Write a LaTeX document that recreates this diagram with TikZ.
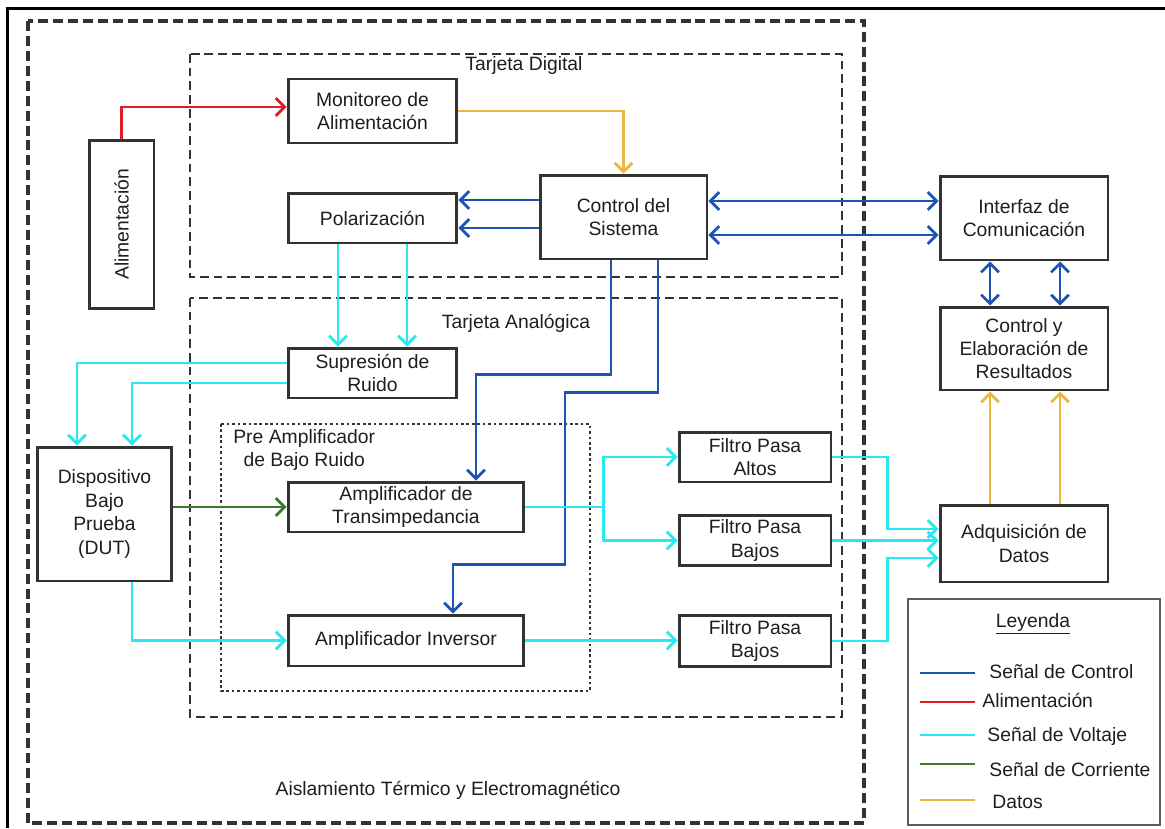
\documentclass[tikz,border=0pt]{standalone}
\usepackage{fontspec}
\setmainfont{Liberation Sans}
\usetikzlibrary{arrows.meta, calc}
\definecolor{sigB}{RGB}{30,84,180}
\definecolor{sigR}{RGB}{222,30,36}
\definecolor{sigC}{RGB}{40,232,240}
\definecolor{sigG}{RGB}{62,120,40}
\definecolor{sigY}{RGB}{232,186,60}
\definecolor{boxK}{RGB}{51,51,51}
\definecolor{txtK}{RGB}{30,30,30}
\tikzset{
  blk/.style={draw=boxK, line width=1.7pt, fill=white, align=center, inner sep=0pt, text=txtK},
  lnk/.style={line width=1.6pt, ->},
  ctl/.style={lnk, sigB}, pwr/.style={lnk, sigR}, volt/.style={lnk, sigC},
  curr/.style={lnk, sigG}, dat/.style={lnk, sigY},
  outer/.style={draw=boxK, line width=1.8pt, dash pattern=on 5.7pt off 2.8pt},
  card/.style={draw=boxK, line width=0.9pt, dash pattern=on 5pt off 2.8pt},
  lna/.style={draw=boxK, line width=1.6pt, dash pattern=on 1.5pt off 1.6pt}
}
\begin{document}
\begin{tikzpicture}[x=0.02cm, y=-0.02cm, >={Straight Barb[length=5pt,width=10pt]},
  font=\fontsize{11}{13.3}\selectfont, text=txtK]
\useasboundingbox (0,0) rectangle (1165,828);
% ======== frame and enclosures ========
\draw[line width=1.7pt] (7.5,828) -- (7.5,8.5) -- (1165,8.5);
\draw[outer] (28,21) rectangle (864,823);
\draw[card] (190,54) rectangle (842,277);
\draw[card] (190,298) rectangle (842,717);
\draw[lna] (221,424) rectangle (590,691);
\node (tdig) at (524,66) {Tarjeta Digital};
\node (tana) at (516,323) {Tarjeta Analógica};
\node[align=center, anchor=north west, inner sep=0pt] (pream) at (233,429) {Pre Amplificador\\de Bajo Ruido};
\node (aisl) at (448,790) {Aislamiento Térmico y Electromagnético};
% ======== blocks ========
\node[blk, minimum width=1.30cm, minimum height=3.38cm] (alim) at (121.5,224.5) {\rotatebox{90}{Alimentación}};
\node[blk, minimum width=3.38cm, minimum height=1.28cm] (monit) at (372.5,111) {Monitoreo de\\Alimentación};
\node[blk, minimum width=3.38cm, minimum height=1.00cm] (polar) at (372.5,218) {Polarización};
\node[blk, minimum width=3.34cm, minimum height=1.68cm] (ctrl) at (623.5,217) {Control del\\Sistema};
\node[blk, minimum width=3.36cm, minimum height=1.68cm] (interf) at (1024,218) {Interfaz de\\Comunicación};
\node[blk, minimum width=3.36cm, minimum height=1.66cm] (result) at (1024,348.5) {Control y\\Elaboración de\\Resultados};
\node[blk, minimum width=3.36cm, minimum height=1.54cm] (adq) at (1024,543.5) {Adquisición de\\Datos};
\node[blk, minimum width=3.38cm, minimum height=1.00cm] (supr) at (372.5,373) {Supresión de\\Ruido};
\node[blk, minimum width=2.70cm, minimum height=2.68cm, font=\fontsize{11}{13.6}\selectfont] (dut) at (104.5,514) {Dispositivo\\Bajo\\Prueba\\(DUT)};
\node[blk, minimum width=4.72cm, minimum height=1.00cm] (trans) at (406,507) {Amplificador de\\Transimpedancia};
\node[blk, minimum width=4.72cm, minimum height=1.02cm] (inv) at (406,640.5) {Amplificador Inversor};
\node[blk, minimum width=3.04cm, minimum height=1.00cm] (fpa) at (755,457) {Filtro Pasa\\Altos};
\node[blk, minimum width=3.04cm, minimum height=1.00cm] (fpb1) at (755,540.5) {Filtro Pasa\\Bajos};
\node[blk, minimum width=3.04cm, minimum height=1.02cm] (fpb2) at (755,641) {Filtro Pasa\\Bajos};
% ======== supply and data ========
\draw[pwr] (alim.north) |- ([yshift=0.08cm]monit.west);
\draw[dat] (monit.east) -| (ctrl.north);
\draw[dat] ([xshift=-0.68cm]adq.north) -- ([xshift=-0.68cm]result.south);
\draw[dat] ([xshift=0.72cm]adq.north) -- ([xshift=0.72cm]result.south);
% ======== control ========
\draw[ctl] ([yshift=0.34cm]ctrl.west) -- ([yshift=0.34cm]ctrl.west -| polar.east);
\draw[ctl] ([yshift=-0.22cm]ctrl.west) -- ([yshift=-0.22cm]ctrl.west -| polar.east);
\draw[ctl, <->] ([yshift=0.32cm]ctrl.east) -- ([yshift=0.32cm]ctrl.east -| interf.west);
\draw[ctl, <->] ([yshift=-0.36cm]ctrl.east) -- ([yshift=-0.36cm]ctrl.east -| interf.west);
\draw[ctl, <->] ([xshift=-0.68cm]interf.south) -- ([xshift=-0.68cm]result.north);
\draw[ctl, <->] ([xshift=0.72cm]interf.south) -- ([xshift=0.72cm]result.north);
\draw[ctl] ([xshift=-0.25cm]ctrl.south) -- ++(0,114) -| ([xshift=1.4cm]trans.north);
\draw[ctl] ([xshift=0.69cm]ctrl.south) -- ++(0,132) -- ++(-93,0) -- ++(0,172) -| ([xshift=0.94cm]inv.north);
% ======== analog signals ========
\draw[volt] ([xshift=-0.69cm]polar.south) -- ([xshift=-0.69cm]supr.north);
\draw[volt] ([xshift=0.69cm]polar.south) -- ([xshift=0.69cm]supr.north);
\draw[volt] ([yshift=0.2cm]supr.west) -| ([xshift=-0.55cm]dut.north);
\draw[volt] ([yshift=-0.2cm]supr.west) -| ([xshift=0.55cm]dut.north);
\draw[curr] (dut.east |- trans.west) -- (trans.west);
\draw[volt] ([xshift=0.55cm]dut.south) |- (inv.west);
\draw[volt, -] (trans.east) -- ++(78,0) coordinate (split);
\draw[volt] (split) |- (fpa.west);
\draw[volt] (split) |- (fpb1.west);
\draw[volt] (inv.east) -- (inv.east -| fpb2.west);
\draw[volt] (fpa.east) -- ++(55,0) |- ([yshift=0.29cm]adq.west);
\draw[volt] (fpb1.east) -- (fpb1.east -| adq.west);
\draw[volt] (fpb2.east) -- ++(55,0) |- ([yshift=-0.29cm]adq.west);
% ======== legend ========
\draw[draw=boxK!80, line width=0.9pt] (908,599) rectangle (1160,825);
\node (leyenda) at (1033,624) {\underline{Leyenda}};
\foreach \ly/\c/\tx/\ty/\t in {673/sigB/989/672/Señal de Control, 702/sigR/982/700/Alimentación,
  735/sigC/987/736/Señal de Voltaje, 764/sigG/989/770/Señal de Corriente, 800/sigY/992/802/Datos}{
  \draw[\c, line width=1.6pt] (920,\ly) -- (975,\ly);
  \node[anchor=west, inner sep=0pt] at (\tx,\ty) {\t};
}
\end{tikzpicture}
\end{document}
